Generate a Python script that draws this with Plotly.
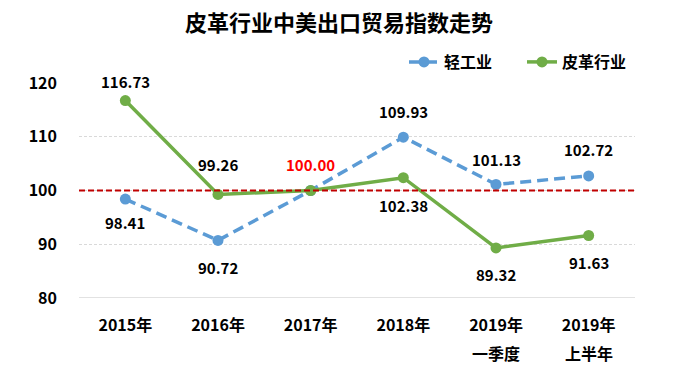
import plotly.graph_objects as go

categories = ["2015年", "2016年", "2017年", "2018年", "2019年", "2019年"]
subcategories = ["", "", "", "", "一季度", "上半年"]
light_industry = [98.41, 90.72, 100.00, 109.93, 101.13, 102.72]
leather = [116.73, 99.26, 100.00, 102.38, 89.32, 91.63]
baseline = 100

# label styling (pixel offsets of the value labels; + above, - below)
blue_label_shift = [-23, -27, 26, 26, 25, 26]
green_label_shift = [19, 30, None, -28, -27, -27]
blue_label_color = ["#000000", "#000000", "#FF0000", "#000000", "#000000", "#000000"]

FONT = "Noto Sans CJK SC"
BLUE = "#5B9BD5"
GREEN = "#70AD47"
RED = "#C00000"

x = list(range(len(categories)))

fig = go.Figure()
fig.add_trace(go.Scatter(
    x=x, y=light_industry, name="轻工业", mode="lines+markers",
    line=dict(color=BLUE, width=3.5, dash="11px,6px"),
    marker=dict(size=11, color=BLUE),
    cliponaxis=False,
))
fig.add_trace(go.Scatter(
    x=x, y=leather, name="皮革行业", mode="lines+markers",
    line=dict(color=GREEN, width=3.5),
    marker=dict(size=11, color=GREEN),
    cliponaxis=False,
))

annotations = []
for i, (v, s, c) in enumerate(zip(light_industry, blue_label_shift, blue_label_color)):
    annotations.append(dict(x=i, y=v, xref="x", yref="y", text=f"{v:.2f}", showarrow=False,
                            yshift=s, yanchor="middle",
                            font=dict(family=FONT, size=15, color=c, weight="bold")))
for i, (v, s) in enumerate(zip(leather, green_label_shift)):
    if s is None:
        continue
    annotations.append(dict(x=i, y=v, xref="x", yref="y", text=f"{v:.2f}", showarrow=False,
                            yshift=s, yanchor="middle",
                            font=dict(family=FONT, size=15, color="#000000", weight="bold")))
for i, sub in enumerate(subcategories):
    if sub:
        annotations.append(dict(x=i, y=-0.2535, xref="x", yref="paper", text=sub, showarrow=False,
                                yanchor="middle",
                                font=dict(family=FONT, size=16, color="#000000", weight="bold")))

fig.add_shape(type="line", xref="paper", yref="y", x0=0, x1=1, y0=80, y1=80,
              line=dict(color="#D9D9D9", width=1.5), layer="below")
fig.add_shape(type="line", xref="paper", yref="y", x0=0, x1=1, y0=baseline, y1=baseline,
              line=dict(color=RED, width=2, dash="6px,3px"), layer="above")

fig.update_layout(
    width=674, height=374,
    margin=dict(l=79, r=39, t=83, b=76, autoexpand=False),
    paper_bgcolor="white", plot_bgcolor="white",
    font=dict(family=FONT, color="#000000"),
    title=dict(text="<b>皮革行业中美出口贸易指数走势</b>", x=339/674, xref="container", xanchor="center",
               y=1 - 23.5/374, yref="container", yanchor="middle", font=dict(size=22, family=FONT)),
    showlegend=True,
    legend=dict(orientation="h", x=404/674, y=1 - 62/374, xref="container", yref="container",
                xanchor="left", yanchor="middle",
                font=dict(size=16, family=FONT, weight="bold"), bgcolor="rgba(0,0,0,0)",
                itemwidth=30, entrywidth=73, entrywidthmode="pixels"),
    annotations=annotations,
    xaxis=dict(tickmode="array", tickvals=x, ticktext=categories, range=[-0.5, 5.5],
               showgrid=False, zeroline=False, showline=False, ticks="",
               tickfont=dict(size=16, family=FONT, weight="bold"), ticklabelstandoff=16),
    yaxis=dict(range=[80, 120], dtick=10, showgrid=True, gridcolor="#D9D9D9", griddash="3px,2px",
               zeroline=False, showline=False, ticks="",
               tickfont=dict(size=16, family=FONT, weight="bold"), ticklabelstandoff=21),
)

fig.write_html("out.html", config={"displayModeBar": False},
               post_script="document.body.style.margin='0';")
